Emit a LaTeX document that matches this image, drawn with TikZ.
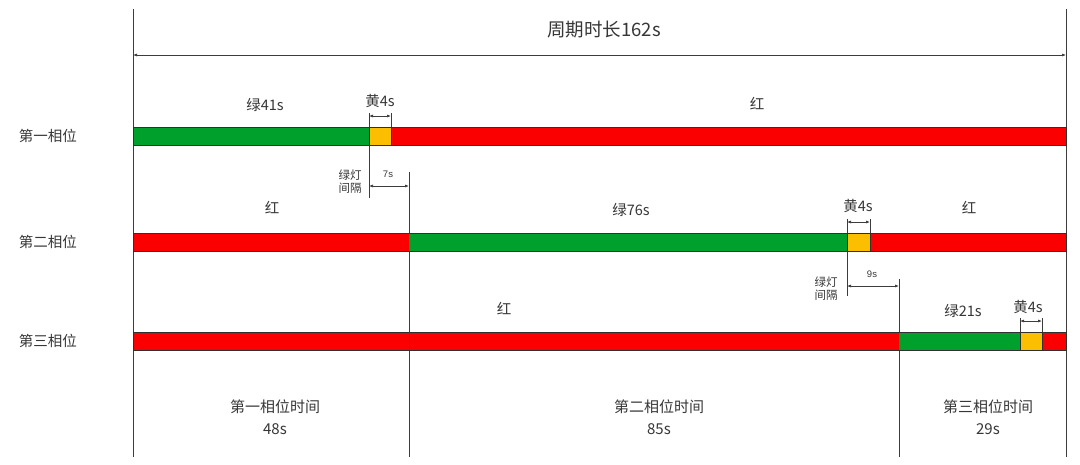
\documentclass[tikz,border=0pt]{standalone}
\usepackage{fontspec}
\setmainfont{Liberation Sans}
\newfontfamily\cjk{Noto Sans CJK SC}
\usetikzlibrary{arrows.meta}
\definecolor{sgreen}{RGB}{0,160,45}
\definecolor{sred}{RGB}{250,0,0}
\definecolor{syellow}{RGB}{252,190,0}
\definecolor{txt}{RGB}{55,55,55}
\definecolor{ln}{RGB}{60,60,60}
\tikzset{
  bar/.style={draw=ln!80!black, line width=0.5pt},
  vline/.style={draw=ln, line width=0.8pt},
  dim/.style={draw=ln, line width=0.7pt, {Latex[length=4pt,width=3pt]}-{Latex[length=4pt,width=3pt]}},
  lab/.style={text=txt, font=\cjk\fontsize{14.5}{16}\selectfont, inner sep=0pt},
  small/.style={text=txt, font=\cjk\fontsize{11.5}{13}\selectfont, inner sep=0pt, align=center},
  tiny/.style={text=txt, font=\fontsize{9.5}{10}\selectfont, inner sep=0pt},
  bottom/.style={text=txt, align=center, font=\cjk\fontsize{15}{22}\selectfont, inner sep=0pt},
}
\begin{document}
\begin{tikzpicture}[x=1pt,y=-1pt]
\useasboundingbox[fill=white] (0,0) rectangle (1080,464);
% frame lines
\coordinate (LT) at (133,9); \coordinate (LB) at (133,457);
\coordinate (RT) at (1066,9); \coordinate (RB) at (1066,457);
\draw[vline] (LT) -- (LB);
\draw[vline] (RT) -- (RB);
\coordinate (AL) at (133,55); \coordinate (AR) at (1066,55);
\draw[dim] (AL) -- (AR);
\node[lab, font=\cjk\fontsize{18.5}{20}\selectfont] (title) at (604,30) {周期时长162s};

% phase labels
\node[lab] (p1) at (48,136) {第一相位};
\node[lab] (p2) at (48,242) {第二相位};
\node[lab] (p3) at (48,341) {第三相位};

% row 1
\fill[sgreen] (133,127) rectangle (369,145);
\fill[syellow] (369,127) rectangle (391,145);
\fill[sred] (391,127) rectangle (1066,145);
\draw[bar] (133,127) rectangle (1066,145);
\draw[bar] (369,127) -- (369,145) (391,127) -- (391,145);
\node[lab] (g1) at (265,105) {绿41s};
\node[lab] (y1) at (380,101) {黄4s};
\node[lab] (r1) at (757,104) {红};
\coordinate (y1a) at (369,116); \coordinate (y1b) at (391,116);
\draw[vline, line width=0.6pt] (369,113) -- (369,127) (391,113) -- (391,127);
\draw[dim] (y1a) -- (y1b);

% interval 1
\draw[vline] (369,145) -- (369,198);
\draw[vline] (409,172) -- (409,457);
\coordinate (i1a) at (369,186); \coordinate (i1b) at (409,186);
\draw[dim] (i1a) -- (i1b);
\node[tiny] (t7) at (388,174) {7s};
\node[small] (gi1) at (350,182) {绿灯\\间隔};

% row 2
\fill[sred] (133,233) rectangle (409,251);
\fill[sgreen] (409,233) rectangle (847,251);
\fill[syellow] (847,233) rectangle (870,251);
\fill[sred] (870,233) rectangle (1066,251);
\draw[bar] (133,233) rectangle (1066,251);
\draw[bar] (847,233) -- (847,251) (870,233) -- (870,251);
\node[lab] (r2a) at (272,208) {红};
\node[lab] (g2) at (631,210) {绿76s};
\node[lab] (y2) at (858,206) {黄4s};
\node[lab] (r2b) at (969,208) {红};
\coordinate (y2a) at (847,222); \coordinate (y2b) at (870,222);
\draw[vline, line width=0.6pt] (847,219) -- (847,233) (870,219) -- (870,233);
\draw[dim] (y2a) -- (y2b);

% interval 2
\draw[vline] (847,251) -- (847,296);
\draw[vline] (899,279) -- (899,457);
\coordinate (i2a) at (847,286); \coordinate (i2b) at (899,286);
\draw[dim] (i2a) -- (i2b);
\node[tiny] (t9) at (872,274) {9s};
\node[small] (gi2) at (826,289) {绿灯\\间隔};

% row 3
\fill[sred] (133,332) rectangle (899,350);
\fill[sgreen] (899,332) rectangle (1020,350);
\fill[syellow] (1020,332) rectangle (1042,350);
\fill[sred] (1042,332) rectangle (1066,350);
\draw[bar] (133,332) rectangle (1066,350);
\draw[bar] (1020,332) -- (1020,350) (1042,332) -- (1042,350);
\draw[vline] (409,332) -- (409,350);
\node[lab] (r3) at (504,309) {红};
\node[lab] (g3) at (963,311) {绿21s};
\node[lab] (y3) at (1028,307) {黄4s};
\coordinate (y3a) at (1020,321); \coordinate (y3b) at (1042,321);
\draw[vline, line width=0.6pt] (1020,318) -- (1020,332) (1042,318) -- (1042,332);
\draw[dim] (y3a) -- (y3b);

% bottom labels
\node[bottom] (b1) at (275,417) {第一相位时间\\48s};
\node[bottom] (b2) at (659,417) {第二相位时间\\85s};
\node[bottom] (b3) at (988,417) {第三相位时间\\29s};
\end{tikzpicture}
\end{document}
